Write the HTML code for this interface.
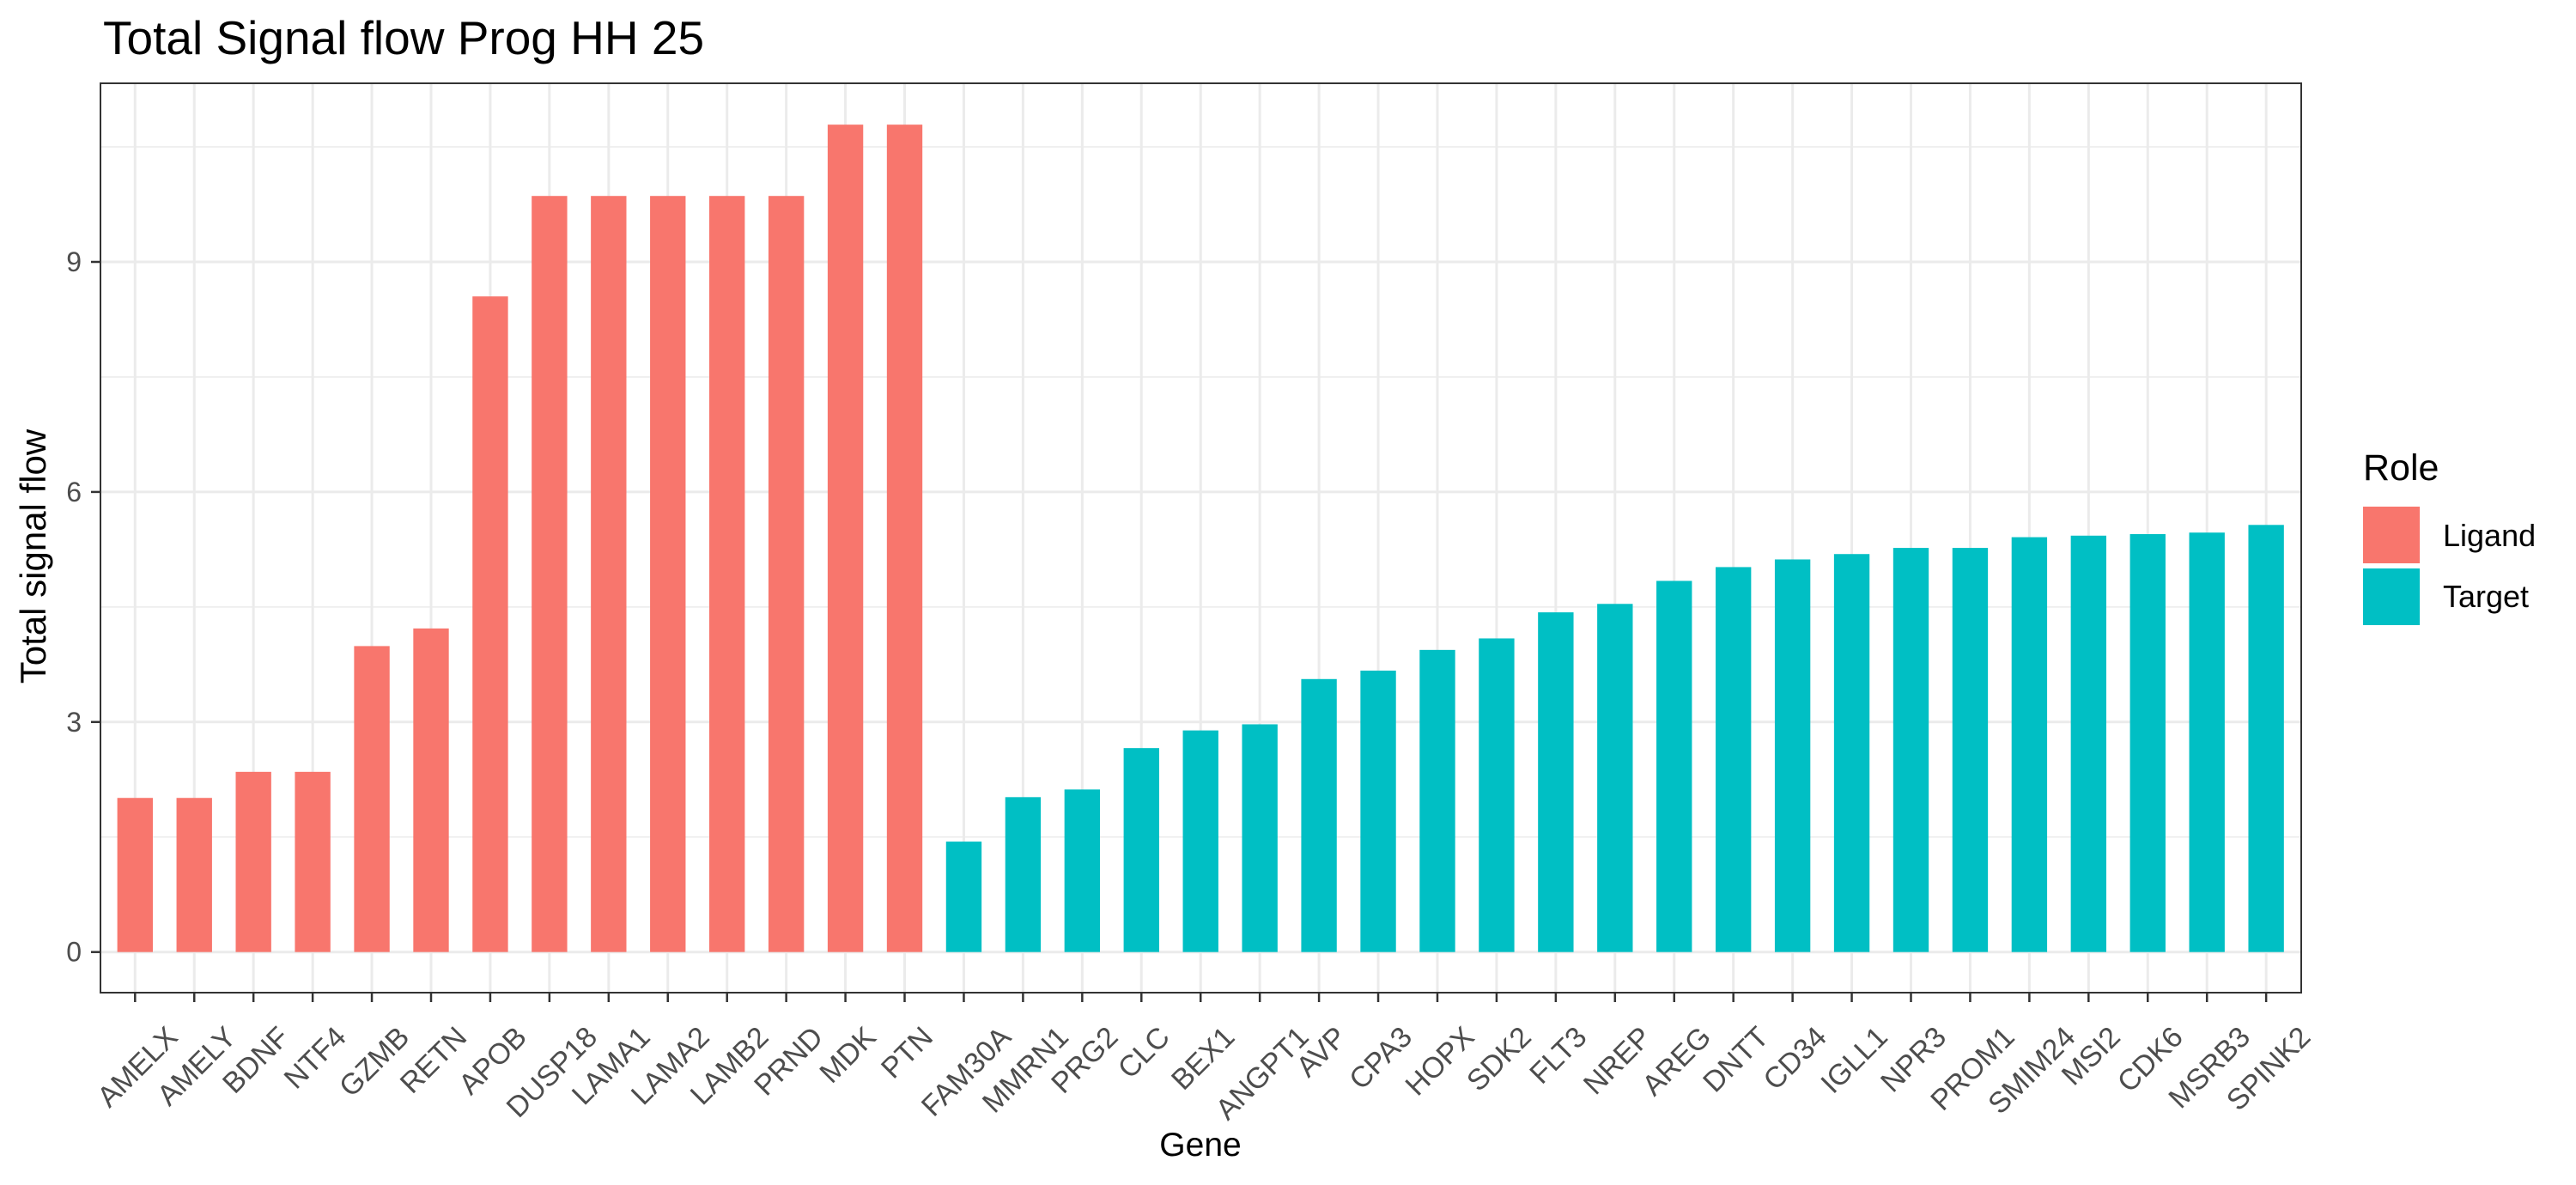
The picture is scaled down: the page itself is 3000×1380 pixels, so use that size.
<!DOCTYPE html>
<html><head><meta charset="utf-8"><style>
html,body{margin:0;padding:0;background:#fff;}
svg{display:block;font-family:"Liberation Sans",Arial,sans-serif;}
</style></head><body>
<svg id="chart" width="3000" height="1380" viewBox="0 0 3000 1380">
<text x="120" y="63" font-size="55" fill="#000">Total Signal flow Prog HH 25</text>
<g id="grid"></g>
<g id="bars"></g>
<rect x="117" y="97" width="2563" height="1059" fill="none" stroke="#333" stroke-width="2"/>
<g id="yaxis"></g>
<g id="xaxis"></g>
<text transform="translate(53,648) rotate(-90)" text-anchor="middle" font-size="42" fill="#000">Total signal flow</text>
<text x="1398" y="1346" text-anchor="middle" font-size="39" fill="#000">Gene</text>
<g>
<text x="2752" y="559" font-size="43" fill="#000">Role</text>
<rect x="2752" y="590" width="66" height="66" fill="#F8766D"/>
<text x="2845" y="636" font-size="36" fill="#000">Ligand</text>
<rect x="2752" y="662" width="66" height="66" fill="#00BFC4"/>
<text x="2845" y="707" font-size="36" fill="#000">Target</text>
</g>
</svg>
<script>
const genes = ["AMELX","AMELY","BDNF","NTF4","GZMB","RETN","APOB","DUSP18","LAMA1","LAMA2","LAMB2","PRND","MDK","PTN","FAM30A","MMRN1","PRG2","CLC","BEX1","ANGPT1","AVP","CPA3","HOPX","SDK2","FLT3","NREP","AREG","DNTT","CD34","IGLL1","NPR3","PROM1","SMIM24","MSI2","CDK6","MSRB3","SPINK2"];
const values = [2.01,2.01,2.35,2.35,3.99,4.22,8.55,9.86,9.86,9.86,9.86,9.86,10.79,10.79,1.44,2.02,2.12,2.66,2.89,2.97,3.56,3.67,3.94,4.09,4.43,4.54,4.84,5.02,5.12,5.19,5.27,5.27,5.41,5.43,5.45,5.47,5.57];
const roles = ["Ligand","Ligand","Ligand","Ligand","Ligand","Ligand","Ligand","Ligand","Ligand","Ligand","Ligand","Ligand","Ligand","Ligand","Target","Target","Target","Target","Target","Target","Target","Target","Target","Target","Target","Target","Target","Target","Target","Target","Target","Target","Target","Target","Target","Target","Target"];
const yTicks = [0,3,6,9];
const yMinor = [1.5,4.5,7.5,10.5];

const NS = "http://www.w3.org/2000/svg";
const colors = {Ligand:"#F8766D", Target:"#00BFC4"};
const X0 = 157.3, STEP = 68.94;
const Y0 = 1108.7, UNIT = 89.3;
const xs = i => X0 + i*STEP;
const ys = v => Y0 - v*UNIT;
function mk(tag, attrs, parent){const e=document.createElementNS(NS,tag);for(const k in attrs)e.setAttribute(k,attrs[k]);parent.appendChild(e);return e;}
const grid=document.getElementById('grid'), bars=document.getElementById('bars'), yax=document.getElementById('yaxis'), xax=document.getElementById('xaxis');

yMinor.forEach(v=>{const l=mk('line',{x1:117,x2:2680,y1:ys(v),y2:ys(v),stroke:'#ebebeb','stroke-width':1.5},grid);

});
yTicks.forEach(v=>{const l=mk('line',{x1:117,x2:2680,y1:ys(v),y2:ys(v),stroke:'#ebebeb','stroke-width':3},grid);


const t=mk('line',{x1:106,x2:117,y1:ys(v),y2:ys(v),stroke:'#333','stroke-width':2.5},yax);


const tx=mk('text',{x:95,y:ys(v)+11,'text-anchor':'end','font-size':32,fill:'#4d4d4d'},yax);
tx.textContent=v;

});
genes.forEach((g,i)=>{const x=xs(i);
const l=mk('line',{x1:x,x2:x,y1:97,y2:1156,stroke:'#ebebeb','stroke-width':3},grid);


const w=STEP*0.6;
const b=mk('rect',{x:x-w/2,y:ys(values[i]),width:w,height:ys(0)-ys(values[i]),fill:colors[roles[i]]},bars);


const t=mk('line',{x1:x,x2:x,y1:1156,y2:1167,stroke:'#333','stroke-width':2.5},xax);


const tx=mk('text',{'text-anchor':'middle','dominant-baseline':'central','font-size':34,fill:'#4d4d4d'},xax);
tx.textContent=g;


const L=tx.getComputedTextLength(); const h=L/2*0.7071;
tx.setAttribute('transform','translate('+(x+3)+','+(1202+h)+') rotate(-45)');
});
</script>
</body></html>
